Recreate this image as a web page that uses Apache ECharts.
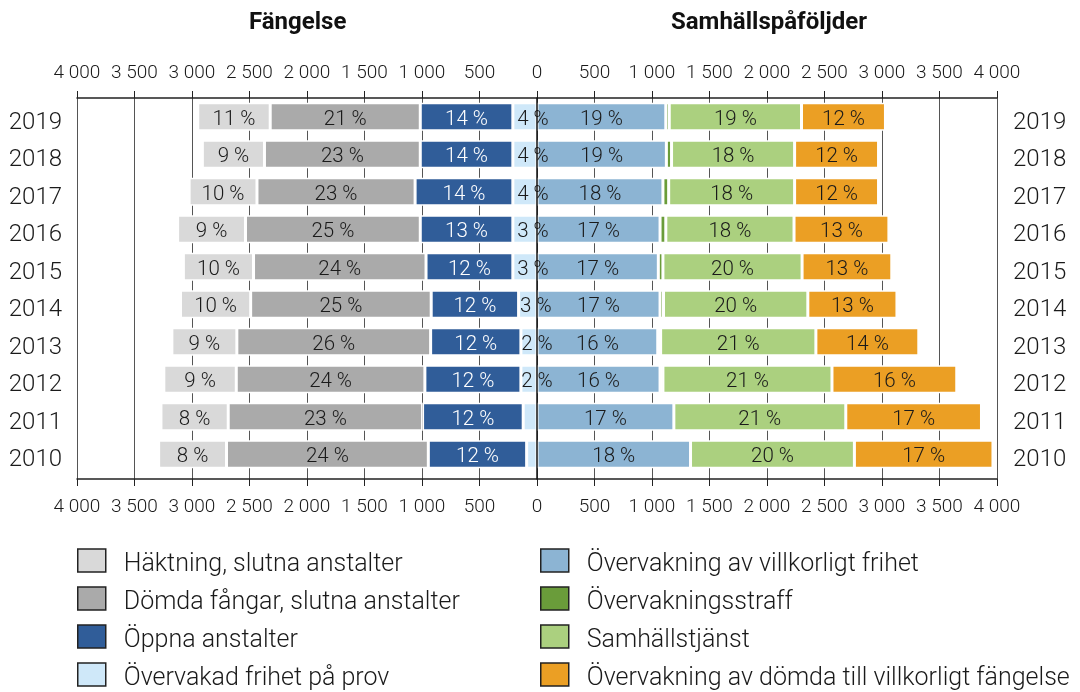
<!DOCTYPE html>
<html>
<head>
<meta charset="utf-8">
<script src="https://cdn.jsdelivr.net/npm/echarts@6/dist/echarts.min.js"></script>
<style>
  html, body { margin: 0; padding: 0; background: #fff; }
  #chart { width: 1080px; height: 692px; }
</style>
</head>
<body>
<div id="chart"></div>
<script>
const years = ['2019', '2018', '2017', '2016', '2015', '2014', '2013', '2012', '2011', '2010']

// Fängelse (drawn to the left of 0)
const haktning = [630, 540, 590, 590, 610, 610, 565, 630, 585, 590]
const domda = [1305, 1355, 1375, 1520, 1500, 1570, 1685, 1640, 1690, 1755]
const oppna = [805, 805, 850, 805, 755, 760, 785, 835, 875, 855]
const frihetProv = [210, 210, 210, 210, 210, 160, 140, 140, 120, 90]

// Samhällspåföljder (drawn to the right of 0)
const villkorligFrihet = [1120, 1125, 1095, 1070, 1055, 1070, 1050, 1070, 1190, 1335]
const ovStraff = [30, 45, 50, 50, 40, 30, 25, 25, 0, 0]
const samhallstjanst = [1150, 1070, 1095, 1115, 1210, 1255, 1350, 1470, 1495, 1425]
const villkorligtFangelse = [730, 730, 730, 825, 780, 775, 895, 1085, 1180, 1205]

// percentage labels as printed in the bars
const haktningPct = ['11', '9', '10', '9', '10', '10', '9', '9', '8', '8']
const domdaPct = ['21', '23', '23', '25', '24', '25', '26', '24', '23', '24']
const oppnaPct = ['14', '14', '14', '13', '12', '12', '12', '12', '12', '12']
const frihetProvPct = ['4', '4', '4', '3', '3', '3', '2', '2', '', '']
const villkorligFrihetPct = ['19', '19', '18', '17', '17', '17', '16', '16', '17', '18']
const samhallstjanstPct = ['19', '18', '18', '18', '20', '20', '21', '21', '21', '20']
const villkorligtFangelsePct = ['12', '12', '12', '13', '13', '13', '14', '16', '17', '17']

const FONT = 'Roboto, "DejaVu Sans", sans-serif'
const TEXT = '#1a1a1a'

const fmt = (v) => {
  const a = Math.abs(v)
  return a >= 1000 ? Math.floor(a / 1000) + ' ' + String(a % 1000).padStart(3, '0') : String(a)
}

const makeSeries = (name, values, pct, color, side, labelColor, labelOffset) => ({
  name,
  type: 'bar',
  stack: 'total',
  xAxisIndex: 0,
  yAxisIndex: 0,
  barWidth: 28,
  data: values.map(v => side * v),
  itemStyle: { color, borderColor: '#fff', borderWidth: 1.5 },
  label: {
    show: !!pct,
    position: 'inside',
    offset: labelOffset || [0, 3],
    color: labelColor || TEXT,
    fontFamily: FONT,
    fontWeight: 300,
    fontSize: 20.5,
    formatter: p => (pct && pct[p.dataIndex] ? pct[p.dataIndex] + ' %' : ''),
  },
})

const valueAxisBase = {
  type: 'value',
  min: -4000,
  max: 4000,
  interval: 500,
  axisLine: { show: true, onZero: false, lineStyle: { color: '#222', width: 1.5 } },
  axisTick: { show: true, length: 7, lineStyle: { color: '#222' } },
  axisLabel: { color: TEXT, fontFamily: FONT, fontWeight: 300, fontSize: 19, formatter: fmt },
}

// top-aligned with a short line box, so the years sit a little below the bar centre like the original
const yearLabel = { color: TEXT, fontFamily: FONT, fontWeight: 300, fontSize: 24, verticalAlign: 'top', lineHeight: 12 }

const legendBase = {
  orient: 'vertical',
  top: 544,
  height: 170,
  padding: 0,
  itemWidth: 28,
  itemHeight: 23,
  itemGap: 5,
  icon: 'rect',
  itemStyle: { borderColor: '#222', borderWidth: 1.5 },
  formatter: '{t|{name}}',
  textStyle: {
    color: TEXT,
    padding: [0, 0, 0, 13],
    rich: {
      t: { color: TEXT, fontFamily: FONT, fontWeight: 300, fontSize: 25, lineHeight: 24, padding: [8, 0, 0, 0] },
    },
  },
}

const option = {
  animation: false,
  backgroundColor: '#fff',
  textStyle: { fontFamily: FONT },
  graphic: [
    { type: 'text', left: 249, top: 11, style: { text: 'Fängelse', font: 'bold 24px ' + FONT, fill: '#111' } },
    { type: 'text', left: 671, top: 11, style: { text: 'Samhällspåföljder', font: 'bold 24px ' + FONT, fill: '#111' } },
  ],
  grid: [
    { left: 77, right: 83, top: 98, height: 375 },
    { left: 77, right: 83, top: 98, height: 381 },
  ],
  xAxis: [
    {
      ...valueAxisBase,
      gridIndex: 0,
      position: 'top',
      splitLine: { show: false },
      axisLabel: { ...valueAxisBase.axisLabel, margin: 15 },
    },
    {
      ...valueAxisBase,
      gridIndex: 1,
      position: 'bottom',
      splitLine: { show: true, lineStyle: { color: '#555', width: 1 } },
      axisLabel: { ...valueAxisBase.axisLabel, margin: 19 },
    },
  ],
  yAxis: [
    {
      type: 'category',
      gridIndex: 0,
      data: years,
      inverse: true,
      position: 'left',
      axisLine: { show: false },
      axisTick: { show: false },
      axisLabel: { ...yearLabel, margin: 15 },
    },
    {
      type: 'category',
      gridIndex: 0,
      data: years,
      inverse: true,
      position: 'right',
      axisLine: { show: false },
      axisTick: { show: false },
      axisLabel: { ...yearLabel, margin: 16 },
    },
    {
      // the 0 line, drawn over the bars
      type: 'category',
      gridIndex: 1,
      data: years,
      inverse: true,
      z: 10,
      axisLine: { show: true, onZero: true, lineStyle: { color: '#111', width: 1.5 } },
      axisTick: { show: false },
      axisLabel: { show: false },
    },
  ],
  legend: [
    {
      ...legendBase,
      left: 77,
      data: ['Häktning, slutna anstalter', 'Dömda fångar, slutna anstalter', 'Öppna anstalter', 'Övervakad frihet på prov'],
    },
    {
      ...legendBase,
      left: 540,
      data: ['Övervakning av villkorligt frihet', 'Övervakningsstraff', 'Samhällstjänst', 'Övervakning av dömda till villkorligt fängelse'],
    },
  ],
  series: [
    makeSeries('Övervakad frihet på prov', frihetProv, frihetProvPct, '#cfe8f9', -1, TEXT, [8, 3]),
    makeSeries('Öppna anstalter', oppna, oppnaPct, '#305d99', -1, '#fff'),
    makeSeries('Dömda fångar, slutna anstalter', domda, domdaPct, '#aaaaaa', -1),
    makeSeries('Häktning, slutna anstalter', haktning, haktningPct, '#d9d9d9', -1),
    makeSeries('Övervakning av villkorligt frihet', villkorligFrihet, villkorligFrihetPct, '#8cb4d3', 1),
    makeSeries('Övervakningsstraff', ovStraff, null, '#6a9c3a', 1),
    makeSeries('Samhällstjänst', samhallstjanst, samhallstjanstPct, '#abd07f', 1),
    makeSeries('Övervakning av dömda till villkorligt fängelse', villkorligtFangelse, villkorligtFangelsePct, '#eb9f24', 1),
  ],
}

const chart = echarts.init(document.getElementById('chart'))
chart.setOption(option)
</script>
</body>
</html>
